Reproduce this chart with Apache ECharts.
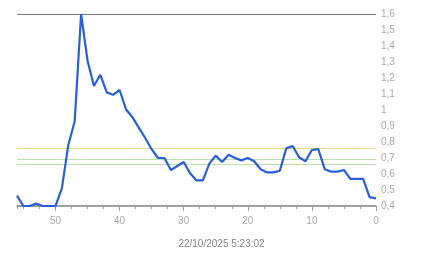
<!DOCTYPE html>
<html>
<head>
<meta charset="utf-8">
<script src="https://cdn.jsdelivr.net/npm/echarts@6/dist/echarts.min.js"></script>
<style>html,body{margin:0;padding:0;background:#fff}#c{width:443px;height:258px}</style>
</head>
<body>
<div id="c"></div>
<script>
var xValues = [56,55,54,53,52,51,50,49,48,47,46,45,44,43,42,41,40,39,38,37,36,35,34,33,32,31,30,29,28,27,26,25,24,23,22,21,20,19,18,17,16,15,14,13,12,11,10,9,8,7,6,5,4,3,2,1,0];
var yValues = [0.465,0.40,0.40,0.415,0.40,0.40,0.40,0.51,0.78,0.93,1.60,1.31,1.15,1.22,1.11,1.095,1.125,1.005,0.955,0.89,0.825,0.755,0.70,0.70,0.625,0.65,0.675,0.605,0.56,0.56,0.665,0.715,0.675,0.72,0.70,0.685,0.70,0.68,0.63,0.61,0.61,0.62,0.76,0.775,0.705,0.68,0.75,0.755,0.63,0.615,0.615,0.625,0.57,0.57,0.57,0.455,0.448];
var thresholdLines = [1.6, 0.76, 0.69, 0.655];
var thresholdColors = ['#7a7a7a', '#ecd78a', '#b8e2a8', '#b8e2a8'];
var timestampLabel = '22/10/2025 5:23:02';

var seriesData = xValues.map(function (x, i) { return [x, yValues[i]]; });
var font = 'Liberation Sans, Arial, sans-serif';

var chart = echarts.init(document.getElementById('c'), null, {renderer: 'canvas'});
chart.setOption({
  animation: false,
  backgroundColor: '#ffffff',
  title: {
    text: timestampLabel,
    left: 'center',
    top: 234,
    textStyle: {fontSize: 10, fontWeight: 'normal', color: '#858585', fontFamily: font}
  },
  grid: {left: 17, right: 67, top: 14, bottom: 52},
  xAxis: [{
    type: 'value',
    position: 'bottom',
    min: 0,
    max: 56,
    interval: 2.5,
    inverse: true,
    axisLine: {show: true, lineStyle: {color: '#808080', width: 1.5}},
    axisTick: {show: true, length: 3, lineStyle: {color: '#a0a0a0'}},
    splitLine: {show: false},
    axisLabel: {show: false}
  }, {
    type: 'value',
    position: 'bottom',
    offset: 0,
    min: 0,
    max: 56,
    interval: 10,
    inverse: true,
    axisLine: {show: false},
    axisTick: {show: true, length: 5, lineStyle: {color: '#a0a0a0'}},
    splitLine: {show: false},
    axisLabel: {color: '#a8a8a8', fontSize: 10, fontFamily: font, margin: 10, showMaxLabel: false,
      formatter: function (v) { return v % 10 === 0 ? String(v) : ''; }}
  }],
  yAxis: {
    type: 'value',
    position: 'right',
    min: 0.4,
    max: 1.6,
    interval: 0.1,
    axisLine: {show: false},
    axisTick: {show: false},
    splitLine: {show: false},
    axisLabel: {
      color: '#a8a8a8', fontSize: 10, fontFamily: font, margin: 5,
      formatter: function (v) { return String(Number(v.toFixed(1))).replace('.', ','); }
    }
  },
  series: [{
    type: 'line',
    xAxisIndex: 0,
    data: seriesData,
    showSymbol: false,
    lineStyle: {color: '#2a5fd8', width: 2.2},
    z: 5,
    markLine: {
      silent: true,
      symbol: 'none',
      label: {show: false},
      animation: false,
      data: thresholdLines.map(function (v, i) {
        return {yAxis: v, lineStyle: {color: thresholdColors[i], width: 1, type: 'solid'}};
      })
    }
  }]
});
</script>
</body>
</html>
